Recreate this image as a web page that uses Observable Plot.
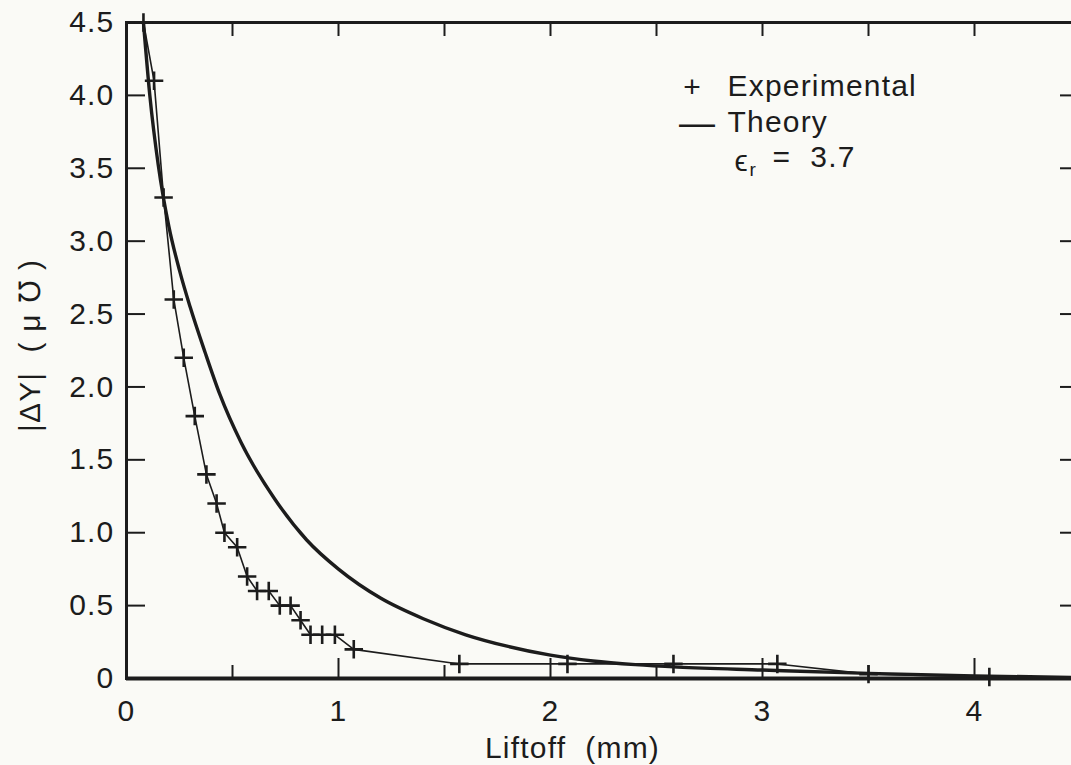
<!DOCTYPE html>
<html><head><meta charset="utf-8">
<script src="https://cdn.jsdelivr.net/npm/d3@7"></script>
<script src="https://cdn.jsdelivr.net/npm/@observablehq/plot@0.6"></script>
<style>
html,body{margin:0;padding:0;background:#fafaf6;overflow:hidden;width:1071px;height:765px}
#chart{width:1071px;height:765px;overflow:hidden}
#chart svg{display:block;max-width:none}
#chart text{letter-spacing:1.2px}
</style></head><body><div id="chart"></div>
<script>
// Experimental measurements (liftoff mm, |ΔY| µmho)
const expX = [0.08, 0.13, 0.175, 0.223, 0.27, 0.322, 0.377, 0.425, 0.462, 0.522, 0.569, 0.616, 0.671, 0.723, 0.774, 0.821, 0.868, 0.923, 0.983, 1.072, 1.57, 2.08, 2.58, 3.07, 3.5, 4.07];
const expY = [4.5, 4.1, 3.3, 2.6, 2.2, 1.8, 1.4, 1.2, 1.0, 0.9, 0.7, 0.6, 0.6, 0.5, 0.5, 0.4, 0.3, 0.3, 0.3, 0.2, 0.1, 0.1, 0.1, 0.1, 0.03, 0.01];
// Theory curve
const theoryX = [0.08, 0.11, 0.15, 0.2, 0.25, 0.3, 0.37, 0.44, 0.54, 0.7, 0.85, 1.0, 1.2, 1.4, 1.6, 1.8, 2.0, 2.2, 2.4, 2.6, 3.0, 3.5, 4.0, 4.5];
const theoryY = [4.5, 4.0, 3.52, 3.1, 2.8, 2.55, 2.24, 1.95, 1.62, 1.23, 0.95, 0.75, 0.55, 0.41, 0.3, 0.22, 0.16, 0.12, 0.095, 0.078, 0.058, 0.035, 0.018, 0.006];
// Tick labels
const xTickLabels = [0, 1, 2, 3, 4];
const xMajorTicks = [1, 2, 3, 4];
const xMinorTicks = [0.5, 1.5, 2.5, 3.5];
const xTopTicks = [0.5, 1, 1.5, 2, 2.5, 3, 3.5, 4];
const yTicks = [0, 0.5, 1, 1.5, 2, 2.5, 3, 3.5, 4, 4.5];
const xLabel = "Liftoff  (mm)";
const yLabel = "|ΔY|  ( μ ℧ )";
const legendExp = "Experimental";
const legendTheory = "Theory";
const epsSymbol = "ϵ", epsSub = "r", epsValue = "=  3.7";

const experimental = expX.map((x, i) => ({x, y: expY[i]}));
const theory = theoryX.map((x, i) => ({x, y: theoryY[i]}));

const ink = "#1c1c1c";
const W = 1090, H = 765, mL = 126, mR = 10, mT = 22, mB = 87;
const fw = W - mL - mR, fh = H - mT - mB;
const font = "'Liberation Sans', Arial, sans-serif";
const fs = 30;

const chart = Plot.plot({
  width: W, height: H,
  marginLeft: mL, marginRight: mR, marginTop: mT, marginBottom: mB,
  x: {domain: [0, 4.5]},
  y: {domain: [0, 4.5]},
  style: {fontFamily: font, fontSize: fs + "px", background: "transparent", color: ink},
  marks: [
    Plot.axisX(xTickLabels, {tickSize: 0, tickPadding: 21, fontSize: fs, label: null, tickFormat: d => String(d)}),
    Plot.axisY(yTicks, {tickSize: 0, tickPadding: 12, fontSize: fs, label: null, tickFormat: d => d === 0 ? "0" : d.toFixed(1)}),
    // inward ticks
    Plot.ruleX(xMajorTicks, {x: d => d, insetTop: fh - 20, stroke: ink, strokeWidth: 2}),
    Plot.ruleX(xMinorTicks, {x: d => d, insetTop: fh - 13, stroke: ink, strokeWidth: 2}),
    Plot.ruleX(xTopTicks, {x: d => d, insetBottom: fh - 14, stroke: ink, strokeWidth: 2}),
    Plot.ruleY(yTicks.slice(1), {y: d => d, insetRight: fw - 19, stroke: ink, strokeWidth: 2}),
    Plot.ruleY(yTicks.slice(1), {y: d => d, insetLeft: fw - 20, stroke: ink, strokeWidth: 2}),
    Plot.frame({stroke: ink, strokeWidth: 3}),
    Plot.ruleY([0], {stroke: ink, strokeWidth: 4}),
    // data
    Plot.line(theory, {x: "x", y: "y", curve: "monotone-x", stroke: ink, strokeWidth: 3.4}),
    Plot.line(experimental, {x: "x", y: "y", stroke: ink, strokeWidth: 1.6}),
    Plot.dot(experimental, {x: "x", y: "y", symbol: "plus", r: 6, stroke: ink, strokeWidth: 2.6}),
    // axis titles
    Plot.text([xLabel], {text: d => d, frameAnchor: "bottom", textAnchor: "middle", dx: -31, dy: 70, lineAnchor: "middle", fontSize: fs, fill: ink}),
    Plot.text([yLabel], {text: d => d, frameAnchor: "left", textAnchor: "middle", dx: -96, dy: -5, rotate: -90, lineAnchor: "middle", fontSize: fs, fill: ink}),
    // legend
    Plot.text(["+"], {text: d => d, frameAnchor: "top-left", dx: 566, dy: 65, lineAnchor: "middle", textAnchor: "middle", fontSize: 30, fill: ink}),
    Plot.text([legendExp], {text: d => d, frameAnchor: "top-left", dx: 601, dy: 64, lineAnchor: "middle", textAnchor: "start", fontSize: fs, fill: ink}),
    Plot.text(["—"], {text: d => d, frameAnchor: "top-left", dx: 571, dy: 101, lineAnchor: "middle", textAnchor: "middle", fontSize: 36, fill: ink}),
    Plot.text([legendTheory], {text: d => d, frameAnchor: "top-left", dx: 601, dy: 100, lineAnchor: "middle", textAnchor: "start", fontSize: fs, fill: ink}),
    Plot.text([epsSymbol], {text: d => d, frameAnchor: "top-left", dx: 608, dy: 139, lineAnchor: "middle", textAnchor: "start", fontSize: fs, fill: ink}),
    Plot.text([epsSub], {text: d => d, frameAnchor: "top-left", dx: 623, dy: 147, lineAnchor: "middle", textAnchor: "start", fontSize: 19, fill: ink}),
    Plot.text([epsValue], {text: d => d, frameAnchor: "top-left", dx: 646, dy: 135, lineAnchor: "middle", textAnchor: "start", fontSize: fs, fill: ink})
  ]
});
document.getElementById("chart").appendChild(chart);
</script>
</body></html>
